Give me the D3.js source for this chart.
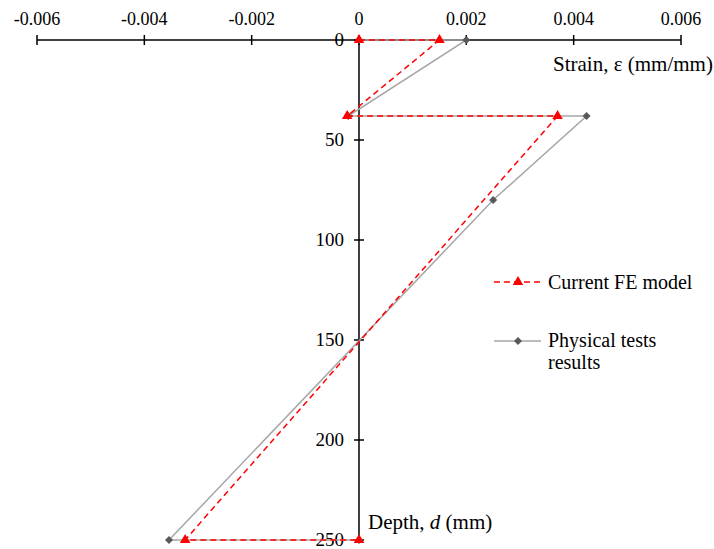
<!DOCTYPE html>
<html>
<head>
<meta charset="utf-8">
<script src="https://cdn.jsdelivr.net/npm/d3@7"></script>
<style>
    body { margin: 0; background: #fff; }
    text { font-family: "Liberation Serif", "DejaVu Serif", serif; fill: #000; }
</style>
</head>
<body>
<div id="chart"></div>
<script>
// strain (mm/mm) and depth (mm) for each series
const feStrain = [0, 0.0015, -0.00022, 0.0037, -0.00324, 0];
const feDepth = [0, 0, 38, 38, 250, 250];
const testStrain = [0, 0.002, -0.0002, 0.00424, 0.0025, -0.00354, 0];
const testDepth = [0, 0, 38, 38, 80, 250, 250];
const xTicks = [-0.006, -0.004, -0.002, 0, 0.002, 0.004, 0.006];
const yTicks = [0, 50, 100, 150, 200, 250];
const seriesNames = ["Current FE model", "Physical tests results"];

const width = 714, height = 549;
const fs = 18;
const svg = d3.select("#chart").append("svg")
    .attr("width", width)
    .attr("height", height);

const x = d3.scaleLinear().domain([-0.006, 0.006]).range([37, 681]);
const y = d3.scaleLinear().domain([0, 250]).range([40, 540]);

// x axis along the top
const xAxis = svg.append("g");
xAxis.append("line")
    .attr("x1", x(-0.006)).attr("x2", x(0.006))
    .attr("y1", y(0)).attr("y2", y(0))
    .attr("stroke", "#000").attr("stroke-width", 1.5);
xAxis.selectAll(".xt").data(xTicks).enter().append("line")
    .attr("x1", d => x(d)).attr("x2", d => x(d))
    .attr("y1", y(0) - 5).attr("y2", y(0) + 5)
    .attr("stroke", "#000").attr("stroke-width", 1.5);
xAxis.selectAll(".xl").data(xTicks).enter().append("text")
    .attr("x", d => x(d)).attr("y", 25)
    .attr("text-anchor", "middle")
    .attr("font-size", fs)
    .text(d => d === 0 ? "0" : d.toFixed(3));

// y axis at zero strain
const yAxis = svg.append("g");
yAxis.append("line")
    .attr("x1", x(0)).attr("x2", x(0))
    .attr("y1", y(0)).attr("y2", y(250))
    .attr("stroke", "#000").attr("stroke-width", 1.5);
yAxis.selectAll(".yt").data(yTicks).enter().append("line")
    .attr("x1", x(0) - 5).attr("x2", x(0) + 5)
    .attr("y1", d => y(d)).attr("y2", d => y(d))
    .attr("stroke", "#000").attr("stroke-width", 1.5);
yAxis.selectAll(".yl").data(yTicks).enter().append("text")
    .attr("x", x(0) - 15).attr("y", d => y(d) + 6)
    .attr("text-anchor", "end")
    .attr("font-size", 19)
    .text(d => d);

svg.append("text")
    .attr("x", 553).attr("y", 71)
    .attr("font-size", 21)
    .text("Strain, ε (mm/mm)");

const depthLabel = svg.append("text")
    .attr("x", 368).attr("y", 529)
    .attr("font-size", 21);
depthLabel.append("tspan").text("Depth, ");
depthLabel.append("tspan").attr("font-style", "italic").text("d");
depthLabel.append("tspan").text(" (mm)");

const line = d3.line().x(d => x(d[0])).y(d => y(d[1]));
const testPts = testStrain.map((s, i) => [s, testDepth[i]]);
const fePts = feStrain.map((s, i) => [s, feDepth[i]]);

const diamond = d3.symbol().type(d3.symbolSquare).size(32);
const triangle = d3.symbol().type(d3.symbolTriangle).size(48);

// physical tests
svg.append("path")
    .attr("d", line(testPts))
    .attr("fill", "none")
    .attr("stroke", "#a6a6a6").attr("stroke-width", 1.5);
svg.selectAll(".dm").data(testPts).enter().append("path")
    .attr("d", diamond)
    .attr("transform", d => `translate(${x(d[0])},${y(d[1])}) rotate(45)`)
    .attr("fill", "#595959");

// FE model
svg.append("path")
    .attr("d", line(fePts))
    .attr("fill", "none")
    .attr("stroke", "#ff0000").attr("stroke-width", 1.5)
    .attr("stroke-dasharray", "6,4");
svg.selectAll(".tr").data(fePts).enter().append("path")
    .attr("d", triangle)
    .attr("transform", d => `translate(${x(d[0])},${y(d[1])})`)
    .attr("fill", "#ff0000");

// legend
const lg = svg.append("g");
lg.append("line")
    .attr("x1", 494).attr("x2", 540).attr("y1", 282).attr("y2", 282)
    .attr("stroke", "#ff0000").attr("stroke-width", 1.5)
    .attr("stroke-dasharray", "6,4");
lg.append("path").attr("d", triangle)
    .attr("transform", "translate(518,282)").attr("fill", "#ff0000");
lg.append("text").attr("x", 548).attr("y", 289).attr("font-size", 20)
    .text(seriesNames[0]);

lg.append("line")
    .attr("x1", 494).attr("x2", 541).attr("y1", 341).attr("y2", 341)
    .attr("stroke", "#a6a6a6").attr("stroke-width", 1.5);
lg.append("path").attr("d", diamond)
    .attr("transform", "translate(518,341) rotate(45)").attr("fill", "#595959");
lg.append("text").attr("x", 548).attr("y", 347).attr("font-size", 20)
    .text("Physical tests");
lg.append("text").attr("x", 548).attr("y", 369).attr("font-size", 20)
    .text("results");
</script>
</body>
</html>
